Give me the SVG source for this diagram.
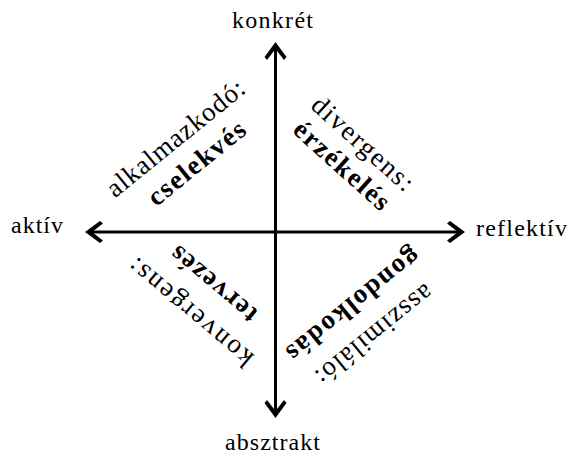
<svg xmlns="http://www.w3.org/2000/svg" width="567" height="454" viewBox="0 0 567 454">
<style>
text { font-family: "Liberation Serif", "Times New Roman", serif; font-size: 24px; fill: #000; }
.r { font-size: 27px; }
.b { font-weight: bold; font-size: 27px; }
.axis { stroke: #000; stroke-width: 3; fill: none; }
</style>
<defs>
<marker id="ah" viewBox="0 0 20 24" markerWidth="20" markerHeight="24" refX="16" refY="12" orient="auto-start-reverse" markerUnits="userSpaceOnUse">
<path d="M20,12 L5,1 L2,3.5 L13,12 L2,20.5 L5,23 Z" fill="#000"/>
</marker>
</defs>
<rect width="567" height="454" fill="#fff"/>
<g id="connectors">
<line class="axis" x1="275.5" y1="46" x2="275.5" y2="414" marker-start="url(#ah)" marker-end="url(#ah)"/>
<line class="axis" x1="89" y1="232" x2="461" y2="232" marker-start="url(#ah)" marker-end="url(#ah)"/>
</g>
<g id="konkret"><text x="232" y="28" textLength="81" lengthAdjust="spacing">konkrét</text></g>
<g id="absztrakt"><text x="225" y="450" textLength="95" lengthAdjust="spacing">absztrakt</text></g>
<g id="aktiv"><text x="11" y="233" textLength="52" lengthAdjust="spacing">aktív</text></g>
<g id="reflektiv"><text x="476" y="236" textLength="91" lengthAdjust="spacing">reflektív</text></g>
<g id="alkalmazkodo">
<text class="r" transform="translate(181,145) rotate(-39)" text-anchor="middle" textLength="170" lengthAdjust="spacing">alkalmazkodó:</text>
<text class="b" transform="translate(202,170) rotate(-39)" text-anchor="middle" textLength="118" lengthAdjust="spacing">cselekvés</text>
</g>
<g id="divergens">
<text class="r" transform="translate(357,150) rotate(42)" text-anchor="middle" textLength="128" lengthAdjust="spacing">divergens:</text>
<text class="b" transform="translate(336,172) rotate(42)" text-anchor="middle" textLength="120" lengthAdjust="spacing">érzékelés</text>
</g>
<g id="konvergens">
<text class="r" transform="translate(196,306) rotate(-140)" text-anchor="middle" textLength="155" lengthAdjust="spacing">konvergens:</text>
<text class="b" transform="translate(219,278) rotate(-140)" text-anchor="middle" textLength="105" lengthAdjust="spacing">tervezés</text>
</g>
<g id="asszimilalo">
<text class="r" transform="translate(369,328) rotate(141)" text-anchor="middle" textLength="144" lengthAdjust="spacing">asszimiláló:</text>
<text class="b" transform="translate(348,298) rotate(141)" text-anchor="middle" textLength="164" lengthAdjust="spacing">gondolkodás</text>
</g>
</svg>
